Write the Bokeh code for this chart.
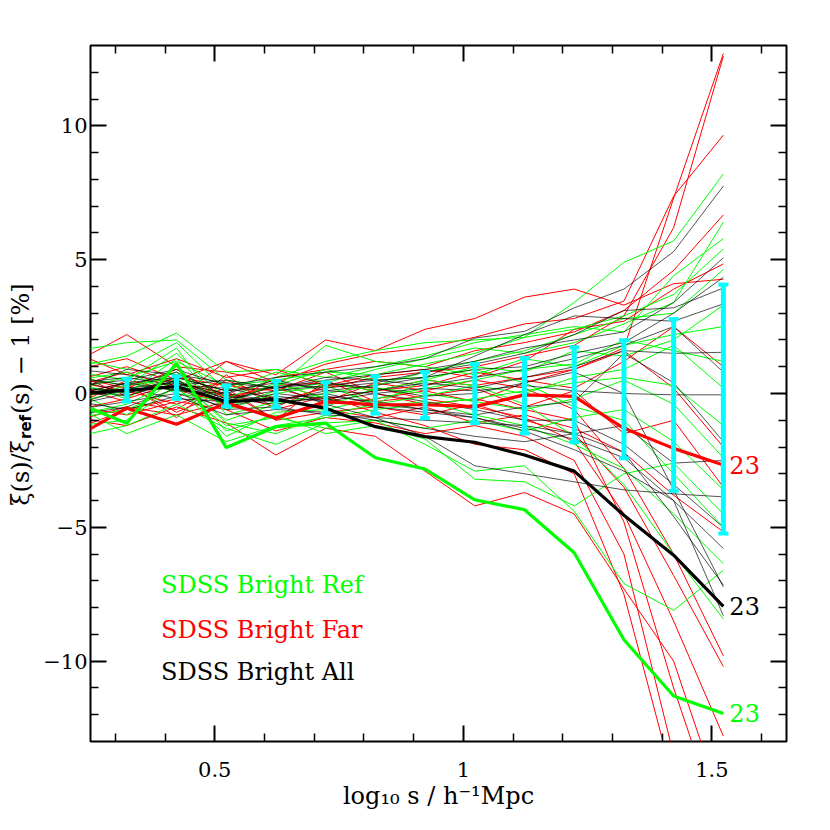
import math
from bokeh.plotting import figure
from bokeh.layouts import row
from bokeh.models import Range1d, FixedTicker, LinearAxis, CustomJSTickFormatter
from bokeh.core.properties import value
from bokeh.embed import file_html
from bokeh.resources import INLINE

# ---------------- data ----------------
log_s = [0.223, 0.323, 0.423, 0.523, 0.623, 0.723, 0.823, 0.923,
         1.023, 1.123, 1.223, 1.323, 1.423, 1.523]

bar_x = [0.323, 0.423, 0.523, 0.623, 0.723, 0.823, 0.923,
         1.023, 1.123, 1.223, 1.323, 1.423, 1.523]
bar_lo = [-0.30, -0.20, -0.49, -0.52, -0.74, -0.75, -0.92,
          -1.11, -1.49, -1.82, -2.42, -3.64, -5.23]
bar_hi = [0.55, 0.64, 0.30, 0.47, 0.42, 0.65, 0.80,
          1.10, 1.32, 1.73, 1.99, 2.78, 4.07]

far_lines = [
    [0.6, 0.2, 0.9, -0.2, 0.3, 0.4, 0.1, 0.5, 0.3, 0.6, 0.9, 1.7, 7.3, 12.7],
    [-0.4, 0.5, 0.1, 0.4, -0.3, 0.2, 0.6, 0.8, 1.0, 1.4, 1.8, 2.9, 6.2, 12.6],
    [1.2, 2.2, 1.0, 0.8, 0.4, 1.1, 1.5, 1.7, 2.1, 2.6, 2.8, 3.45, 7.37, 9.65],
    [0.9, 1.3, 0.5, 1.2, 0.7, 2.0, 1.6, 2.4, 2.8, 3.6, 3.9, 3.3, 4.1, 4.27],
    [0.3, 0.8, 0.2, -0.4, 0.6, 0.9, 1.2, 1.0, 1.6, 1.9, 2.3, 3.1, 4.6, 6.67],
    [-0.6, -0.2, 0.4, 0.0, -0.5, 0.3, 0.7, 0.9, 0.6, 1.2, 2.4, 2.7, 3.9, 4.84],
    [-1.0, -0.5, -0.8, -0.3, -0.9, -0.4, -0.2, 0.1, -0.3, 0.4, 0.9, 1.6, 0.2, -2.0],
    [0.2, -0.3, -0.6, 0.5, -0.2, -0.6, -0.9, -0.5, -1.1, -0.8, -1.3, -2.2, -3.8, -5.17],
    [0.5, 1.0, 0.4, -0.1, 0.2, -0.3, 0.4, 0.1, 0.5, 0.2, -0.6, -2.8, -6.0, -9.8],
    [-0.2, 0.3, -0.7, 0.1, -1.0, -0.7, -0.5, -0.8, -0.4, -1.0, -1.5, -3.5, -6.8, -10.2],
    [1.5, 0.7, 1.3, 0.6, 0.9, 0.3, 0.2, -0.2, -0.5, -0.9, -1.8, -4.5, -8.5, -12.8],
    [-0.9, -1.2, -0.5, -1.1, -2.3, -1.3, -1.6, -2.9, -4.2, -3.7, -4.5, -7.3, -10.0, -15.5],
    [0.0, 0.4, -0.9, 0.7, -0.6, -0.1, -0.7, -1.2, -1.9, -2.1, -3.0, -7.5, -14.5, -20.0],
    [-0.5, -0.8, -0.3, -0.6, -1.4, -0.9, -1.1, -1.5, -1.2, -1.6, -2.5, -6.0, -13.5, -19.0],
    [0.7, -0.1, 0.6, 0.3, 0.1, 0.8, 0.0, -0.4, -0.2, -0.6, -1.0, -4.8, -11.0, -16.5],
    [-1.3, -0.6, -0.2, 1.2, 0.4, -0.2, 0.1, 0.3, 0.8, 0.5, 0.2, 1.2, 2.5, 1.0],
    [0.4, 0.1, -0.4, 0.2, -1.0, 0.5, -0.3, -0.1, 0.2, -0.5, 0.1, -1.5, -1.0, -3.5],
]

ref_lines = [
    [0.2, 0.6, 1.2, 0.3, 0.5, 0.8, 0.7, 1.1, 1.5, 2.1, 3.4, 4.9, 5.7, 8.2],
    [-0.3, 0.1, 0.8, -0.5, 0.1, 0.4, 0.9, 1.3, 1.7, 1.5, 1.9, 2.6, 3.4, 6.4],
    [1.0, 1.4, 2.26, 0.8, 0.9, 0.6, 1.0, 1.4, 1.9, 2.2, 2.5, 2.3, 4.4, 5.79],
    [0.6, 0.3, 1.5, -0.2, 0.6, 1.2, 1.6, 1.9, 2.0, 2.1, 2.4, 2.9, 3.7, 5.4],
    [-0.8, -0.4, 0.5, -1.0, -0.4, 0.0, 0.3, 0.8, 1.2, 1.6, 2.2, 2.8, 3.0, 4.63],
    [1.6, 1.9, 2.0, 0.5, 0.2, 1.8, 1.2, 1.0, 0.7, 1.3, 1.0, 1.8, 2.2, 2.5],
    [-1.2, -1.0, 0.3, -1.6, -0.7, -0.6, -0.2, 0.2, 0.5, 0.9, 1.1, 2.0, 1.6, 1.2],
    [0.4, -0.2, 1.0, -0.6, 0.0, 0.3, -0.4, -0.1, 0.3, 0.0, 0.6, 0.9, 1.8, 0.2],
    [-0.5, -1.5, -0.8, -1.8, -1.2, -0.9, -0.6, -0.4, -0.2, 0.1, 0.4, 0.6, 0.3, -1.2],
    [0.8, 0.5, 1.7, -0.8, -0.3, -0.5, 0.2, 0.0, -0.3, -0.6, -0.2, 0.5, -0.4, -2.4],
    [-1.6, -1.2, -0.4, -1.3, -1.9, -1.1, -1.0, -1.3, -1.0, -1.4, -0.9, -0.6, -1.8, -3.6],
    [0.0, -0.8, 0.6, -1.4, -0.8, -1.5, -1.2, -1.7, -3.2, -3.3, -4.2, -3.0, -2.6, -4.5],
    [0.3, 0.0, 1.3, -0.4, 0.4, -0.2, -0.5, -0.3, -0.8, -1.2, -1.9, -2.8, -4.5, -6.36],
    [-0.9, -0.6, 0.2, -1.2, -0.9, -1.3, -1.0, -1.9, -2.9, -2.7, -4.4, -7.1, -8.1, -6.6],
    [1.3, 0.9, 1.9, 0.1, 0.8, 0.4, 0.1, 0.5, 0.3, -0.4, -1.6, -3.4, -6.0, -8.42],
    [-0.2, 0.3, 0.6, -1.1, -1.5, -0.8, -0.4, 0.5, 1.0, 0.8, 1.6, 1.4, 2.0, 3.3],
    [0.5, 0.8, 0.0, -0.3, 0.3, 0.9, 0.5, 0.6, 0.9, 0.4, -0.5, -1.0, -3.0, -5.0],
]

all_lines = [
    [0.3, 0.5, 0.9, 0.3, 0.6, 0.8, 1.0, 1.3, 2.07, 2.32, 3.2, 3.9, 5.3, 7.75],
    [0.1, 0.9, 0.7, 0.4, 0.2, 0.5, 0.7, 0.9, 1.2, 1.7, 2.0, 2.3, 3.4, 5.07],
    [-0.4, 0.2, 0.4, -0.2, 0.1, 0.3, 0.5, 0.6, 0.9, 1.0, 1.5, 1.9, 3.0, 4.34],
    [0.5, 0.0, 0.6, 0.1, 0.4, 0.2, 0.4, 0.8, 1.1, 1.5, 2.2, 3.1, 3.2, 3.94],
    [-0.2, 0.4, 0.1, 0.0, -0.3, 0.1, 0.3, 0.6, 1.4, 2.2, 2.9, 2.8, 2.7, 3.35],
    [0.2, -0.1, 0.5, -0.4, 0.0, -0.2, 0.1, 0.4, 0.2, 0.6, 1.0, 1.6, 1.5, 1.54],
    [-0.6, -0.3, 0.0, -0.5, -0.1, -0.3, 0.0, 0.2, 0.1, 0.3, 0.1, 0.0, -0.05, -0.05],
    [0.4, 0.6, 0.3, 0.2, -0.2, 0.0, -0.4, -0.6, -0.8, -0.5, -0.3, 1.5, 0.4, -1.8],
    [-0.1, 0.2, -0.2, -0.3, 0.3, -0.4, -0.9, -1.6, -2.7, -3.0, -3.3, -3.6, -3.75, -3.86],
    [0.6, 0.3, 0.8, -0.1, -0.3, -0.2, -0.5, -0.7, -0.9, -1.3, -1.7, -2.4, -4.0, -5.79],
    [-0.8, -0.5, 0.2, -0.6, -0.5, -0.8, -0.9, -1.0, -1.1, -1.2, -1.5, -2.2, -4.6, -7.16],
    [0.0, 0.4, 0.6, 0.1, 0.2, 0.4, 0.2, -0.1, 0.0, 0.4, 0.8, 0.0, -3.6, -7.23],
    [0.9, 0.7, 0.4, 0.0, 0.5, 0.1, 0.0, -0.3, -0.6, -1.0, -1.0, -1.9, -3.4, -5.0],
    [-0.3, -0.6, -0.1, -0.8, -0.6, -0.7, -1.0, -1.3, -1.6, -1.8, -1.5, -1.2, -2.6, -2.5],
    [0.2, 0.1, 0.3, 0.5, 0.2, 0.6, 0.5, 0.3, 0.6, 0.9, 1.3, 1.8, 2.5, 0.8],
    [-0.4, 0.0, 0.5, -0.2, -0.4, -0.1, -0.3, -0.6, -0.9, -1.4, -2.1, -2.9, -4.0, -8.3],
]

ref23 = [-0.35, -1.11, 1.13, -2.02, -1.24, -1.11, -2.40, -2.82, -3.97, -4.34, -5.95, -9.2, -11.3, -11.95]
far23 = [-1.6, -0.55, -1.15, -0.36, -0.92, -0.30, -0.42, -0.42, -0.49, -0.05, -0.11, -1.3, -2.05, -2.67]
all23 = [0.0, 0.12, 0.26, -0.30, -0.22, -0.55, -1.24, -1.61, -1.82, -2.30, -2.90, -4.55, -6.04, -7.95]

sample_names = ["SDSS Bright Ref", "SDSS Bright Far", "SDSS Bright All"]
end_labels = ["23", "23", "23"]

x_major = [0.5, 1.0, 1.5]
x_minor = [0.3, 0.4, 0.6, 0.7, 0.8, 0.9, 1.1, 1.2, 1.3, 1.4, 1.6]
y_major = [-10, -5, 0, 5, 10]
y_minor = [v for v in range(-12, 13) if v % 5 != 0]

GREEN = "#00ff00"
RED = "#ff0000"
BLACK = "#000000"
CYAN = "#00ffff"
SERIF = "DejaVu Serif"

TOP = 45
FRAME = 696
BOTTOM = 82
LABEL_W = 40

# ---------------- main figure ----------------
p = figure(frame_width=FRAME, frame_height=FRAME,
           x_range=Range1d(0.25, 1.65), y_range=Range1d(-13, 13),
           output_backend="svg", toolbar_location=None,
           min_border_left=90 - LABEL_W, min_border_top=TOP,
           min_border_right=26, min_border_bottom=BOTTOM)
p.xgrid.grid_line_color = None
p.ygrid.grid_line_color = None
p.outline_line_color = "black"
p.outline_line_width = 2
p.background_fill_color = "white"
p.border_fill_color = "white"

xt = FixedTicker(ticks=x_major, minor_ticks=x_minor)
yt = FixedTicker(ticks=y_major, minor_ticks=y_minor)

def style_axis(ax):
    ax.axis_line_color = None
    ax.major_tick_in = 16
    ax.major_tick_out = 0
    ax.minor_tick_in = 8
    ax.minor_tick_out = 0
    ax.major_tick_line_width = 2
    ax.minor_tick_line_width = 1.5
    ax.major_tick_line_color = "black"
    ax.minor_tick_line_color = "black"
    ax.major_label_text_font = SERIF
    ax.major_label_text_font_size = "21px"
    ax.major_label_text_color = "black"

p.xaxis.ticker = xt
p.yaxis.ticker = yt
style_axis(p.xaxis[0])
style_axis(p.yaxis[0])
p.xaxis.major_label_overrides = {0.5: "0.5", 1.0: "1", 1.5: "1.5"}
p.yaxis.major_label_overrides = {-10: "\u221210", -5: "\u22125", 0: "0", 5: "5", 10: "10"}
p.xaxis.major_label_standoff = 20
p.yaxis.major_label_standoff = 3
p.xaxis.axis_label = "log\u2081\u2080 s / h\u207b\u00b9Mpc"
p.xaxis.axis_label_text_font = SERIF
p.xaxis.axis_label_text_font_size = "24px"
p.xaxis.axis_label_text_font_style = "normal"
p.xaxis.axis_label_text_color = "black"
p.xaxis.axis_label_standoff = 2

blank = CustomJSTickFormatter(code="return '';")
top = LinearAxis(ticker=xt, formatter=blank)
right = LinearAxis(ticker=yt, formatter=blank)
style_axis(top)
style_axis(right)
p.add_layout(top, "above")
p.add_layout(right, "right")

# thin lines
p.multi_line(xs=[log_s] * len(far_lines), ys=far_lines, line_color=RED, line_width=1)
p.multi_line(xs=[log_s] * len(ref_lines), ys=ref_lines, line_color=GREEN, line_width=1)
p.multi_line(xs=[log_s] * len(all_lines), ys=all_lines, line_color=BLACK, line_width=0.8, line_alpha=0.85)

# thick lines
p.line(log_s, far23, line_color=RED, line_width=3.2)
p.line(log_s, all23, line_color=BLACK, line_width=3.2)
p.line(log_s, ref23, line_color=GREEN, line_width=3.2)

# error bars
p.segment(x0=bar_x, y0=bar_lo, x1=bar_x, y1=bar_hi, line_color=CYAN, line_width=5)
p.scatter(bar_x, bar_lo, marker="dash", size=10, line_width=4, line_color=CYAN)
p.scatter(bar_x, bar_hi, marker="dash", size=10, line_width=4, line_color=CYAN)

# end labels
p.text(x=[log_s[-1]] * 3, y=[far23[-1], all23[-1], ref23[-1]], text=end_labels,
       text_color=[RED, BLACK, GREEN], x_offset=6, text_baseline="middle",
       text_align="left", text_font=value(SERIF), text_font_size="24px")

# legend texts
p.text(x=[0.392] * 3, y=[-7.15, -8.84, -10.41], text=sample_names,
       text_color=[GREEN, RED, BLACK], text_baseline="middle", text_align="left",
       text_font=value(SERIF), text_font_size="24px")

# ---------------- y-axis title strip (rotated text with subscript) ----------------
q = figure(frame_width=LABEL_W, frame_height=FRAME,
           x_range=Range1d(0, LABEL_W), y_range=Range1d(-13, 13),
           output_backend="svg", toolbar_location=None,
           x_axis_type=None, y_axis_type=None,
           min_border_left=0, min_border_right=0,
           min_border_top=TOP, min_border_bottom=BOTTOM)
q.xgrid.grid_line_color = None
q.ygrid.grid_line_color = None
q.outline_line_color = None
q.border_fill_color = "white"
q.background_fill_color = "white"

main_x = 20
sub_x = 25
y_split = -1.74
q.text(x=[main_x], y=[y_split], text=["\u03be(s)/\u03be"], angle=math.pi / 2,
       text_align="right", text_baseline="middle",
       text_font=value(SERIF), text_font_size="24px", text_color="black")
q.text(x=[sub_x], y=[y_split + 0.04], text=["ref"], angle=math.pi / 2,
       text_align="left", text_baseline="middle",
       text_font=value("DejaVu Sans"), text_font_style="bold",
       text_font_size="15px", text_color="black")
q.text(x=[main_x], y=[y_split + 0.97], text=["(s) \u2212 1 [%]"], angle=math.pi / 2,
       text_align="left", text_baseline="middle",
       text_font=value(SERIF), text_font_size="24px", text_color="black")

layout = row(q, p)
open("out.html", "w").write(file_html(layout, INLINE))
